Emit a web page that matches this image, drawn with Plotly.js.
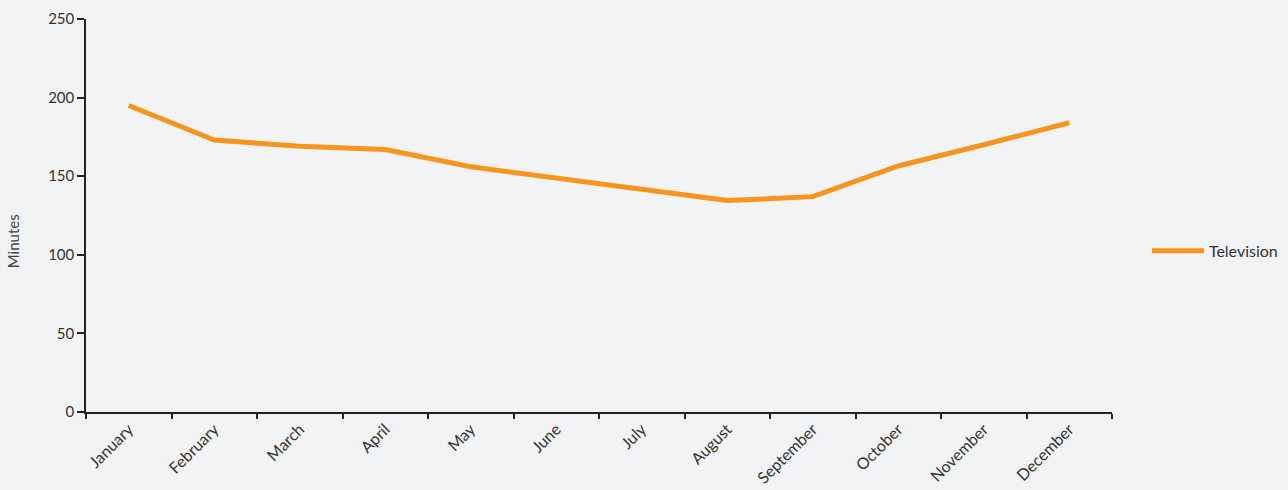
<!DOCTYPE html>
<html>
<head>
<meta charset="utf-8">
<script src="https://cdn.plot.ly/plotly-3.0.1.min.js"></script>
<style>html,body{margin:0;padding:0;background:#f2f3f5;}#chart{width:1288px;height:490px;}</style>
</head>
<body>
<div id="chart"></div>
<script>
const months = ["January","February","March","April","May","June","July","August","September","October","November","December"];
const television = [195, 173, 169, 167, 156, 149, 142, 134.5, 137, 156.5, 170, 184];
const seriesName = "Television";
const yTicks = [0, 50, 100, 150, 200, 250];
const yTitle = "Minutes";

const trace = {
  type: "scatter",
  mode: "lines",
  name: seriesName,
  x: months,
  y: television,
  line: {color: "#f7941d", width: 5},
  hoverinfo: "x+y"
};

const layout = {
  width: 1288,
  height: 490,
  paper_bgcolor: "#f2f3f5",
  plot_bgcolor: "#f2f3f5",
  margin: {l: 86, r: 176, t: 19, b: 78, pad: 0, autoexpand: false},
  font: {family: "Lato, 'Open Sans', sans-serif", color: "#333333", size: 14},
  showlegend: true,
  legend: {
    x: 1.034, xanchor: "left", y: 0.41, yanchor: "middle",
    bgcolor: "rgba(0,0,0,0)",
    font: {size: 16, color: "#333333"},
    itemwidth: 52
  },
  xaxis: {
    type: "category",
    showline: true, linecolor: "#222222", linewidth: 1.5,
    ticks: "outside", tickson: "boundaries", ticklen: 5, tickcolor: "#222222", tickwidth: 1.5,
    tickangle: -45,
    tickfont: {size: 16, color: "#333333"},
    showgrid: false, zeroline: false,
    range: [-0.5, 11.5]
  },
  yaxis: {
    range: [0, 250],
    tickvals: yTicks,
    showline: true, linecolor: "#222222", linewidth: 1.5,
    ticks: "outside", ticklen: 7, tickcolor: "#222222", tickwidth: 1.5,
    tickfont: {size: 15, color: "#333333"},
    showgrid: false, zeroline: false
  },
  annotations: [{
    text: yTitle,
    xref: "paper", yref: "paper",
    x: -0.071, y: 0.435,
    xanchor: "center", yanchor: "middle",
    textangle: -90,
    showarrow: false,
    font: {size: 15, color: "#444444"}
  }]
};

Plotly.newPlot("chart", [trace], layout, {displayModeBar: false, responsive: false});
</script>
</body>
</html>
